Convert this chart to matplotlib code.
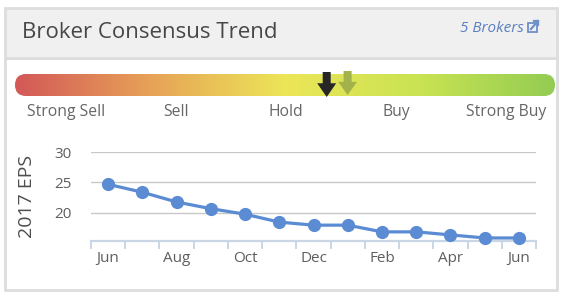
import numpy as np
import matplotlib.pyplot as plt
from matplotlib.patches import Rectangle, FancyBboxPatch, Polygon
from matplotlib.colors import LinearSegmentedColormap
from matplotlib.ticker import FixedLocator

plt.rcParams["font.family"] = ["Open Sans", "DejaVu Sans"]

# EPS consensus, monthly
months = ["Jun", "Jul", "Aug", "Sep", "Oct", "Nov", "Dec",
          "Jan", "Feb", "Mar", "Apr", "May", "Jun"]
eps = [24.7, 23.4, 21.8, 20.7, 19.8, 18.5, 18.0, 18.0, 16.9, 16.9, 16.4, 15.9, 15.9]
yticks = [20, 25, 30]

# rating scale (1 = Strong Sell ... 5 = Strong Buy)
ratings = ["Strong Sell", "Sell", "Hold", "Buy", "Strong Buy"]
consensus_now = 3.37
consensus_prev = 3.56
grad_colors = ["#d35858", "#e7a257", "#ece658", "#c9e352", "#93cc52"]

W, H = 569, 300
fig = plt.figure(figsize=(W / 100, H / 100), dpi=100)

# background layer in pixel coordinates
bg = fig.add_axes([0, 0, 1, 1], zorder=0)
bg.set_xlim(0, W)
bg.set_ylim(H, 0)
bg.axis("off")

# panel and header
bg.add_patch(Rectangle((5, 58), 552, 232, facecolor="white", edgecolor="#dddddd", lw=2))
bg.add_patch(Rectangle((5, 8), 552, 50, facecolor="#f0f0f0", edgecolor="#dddddd", lw=2))
bg.text(22, 33, "Broker Consensus Trend", fontsize=16, color="#474747", va="center", ha="left")
bg.text(524, 29, "5 Brokers", fontsize=11, color="#5b7fc0", style="italic", va="center", ha="right")
# little external link icon
bg.add_patch(Rectangle((528, 23), 9, 9, facecolor="none", edgecolor="#6f8fc8", lw=1.3))
bg.plot([531, 538], [29, 21], color="#6f8fc8", lw=1.6)
bg.plot([534, 538, 538], [21, 21, 25], color="#6f8fc8", lw=1.6)

# gradient rating bar
bx0, bx1, by0, by1 = 15, 555, 74, 96
cmap = LinearSegmentedColormap.from_list("rating", grad_colors)
grad = np.linspace(0, 1, 512)[None, :]
im = bg.imshow(grad, cmap=cmap, extent=[bx0, bx1, by1, by0], aspect="auto", zorder=2)
clip = FancyBboxPatch((bx0, by0), bx1 - bx0, by1 - by0,
                      boxstyle="round,pad=0,rounding_size=11",
                      facecolor="none", edgecolor="none")
bg.add_patch(clip)
im.set_clip_path(clip)
bg.set_xlim(0, W)
bg.set_ylim(H, 0)

# rating labels: value 1 at x=66, value 5 at x=506
def rate_x(v):
    return 66 + (v - 1) * 110

for i, r in enumerate(ratings):
    bg.text(rate_x(i + 1), 112, r, fontsize=11.3, color="#666666", ha="center", va="center")


def arrow(xc, color, y0, y1):
    shaft = 4
    head = 9.5
    ym = y0 + (y1 - y0) * 0.45
    pts = [(xc - shaft, y0), (xc + shaft, y0), (xc + shaft, ym), (xc + head, ym),
           (xc, y1), (xc - head, ym), (xc - shaft, ym)]
    bg.add_patch(Polygon(pts, closed=True, facecolor=color, edgecolor="none", zorder=4))


arrow(rate_x(consensus_prev), "#a3b24a", 71, 95)
arrow(rate_x(consensus_now), "#262626", 72, 97)

# EPS chart
ax = fig.add_axes([91 / W, (H - 241) / H, 445 / W, 89 / H], zorder=1)
ax.patch.set_alpha(0)
x = np.arange(len(eps))
ax.plot(x, eps, color="#5a8bd3", lw=2.3, marker="o", ms=8.5, zorder=3, clip_on=False)
ax.set_xlim(-0.5, len(eps) - 0.5)
ax.set_ylim(15.4, 30)
ax.set_yticks(yticks)
ax.set_xticks(x[::2])
ax.set_xticklabels(months[::2])
ax.xaxis.set_minor_locator(FixedLocator(np.arange(-0.5, len(eps), 1.0)))
ax.grid(axis="y", color="#c8c8c8", lw=1)
for s in ["top", "right", "left"]:
    ax.spines[s].set_visible(False)
ax.spines["bottom"].set_color("#c9d6e6")
ax.spines["bottom"].set_linewidth(1.6)
ax.tick_params(axis="y", length=0, pad=14, labelsize=11, labelcolor="#5e5e5e")
ax.tick_params(axis="x", which="major", length=0, pad=7, labelsize=11, labelcolor="#5e5e5e")
ax.tick_params(axis="x", which="minor", length=6, width=1.4, color="#c9d6e6")
ax.set_ylabel("2017 EPS", fontsize=14, color="#4e4e4e")
ax.yaxis.set_label_coords(-55 / 445, 0.5)

fig.savefig("out.png", dpi=100)
